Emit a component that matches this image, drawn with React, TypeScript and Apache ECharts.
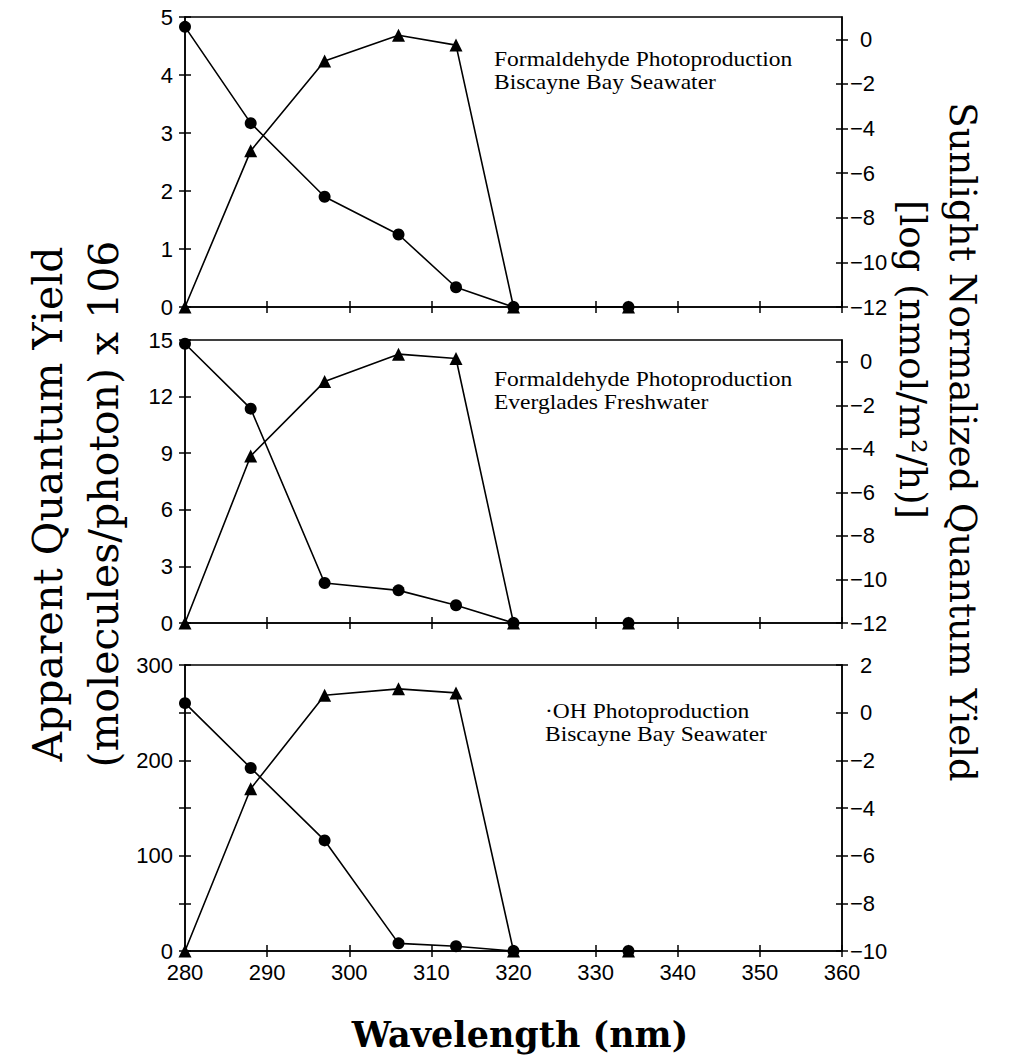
import React, { useEffect, useRef } from "react";
import * as echarts from "echarts";

const wavelengths = [280, 288, 297, 306, 313, 320, 334];

const p1Yield = [4.83, 3.17, 1.9, 1.25, 0.34, 0, 0];
const p1Log = [-12, -5.0, -0.97, 0.18, -0.26, -12, -12];
const p2Yield = [14.8, 11.36, 2.12, 1.73, 0.94, 0, 0];
const p2Log = [-12, -4.33, -0.91, 0.35, 0.15, -12, -12];
const p3Yield = [260, 192, 116, 8, 5, 0, 0];
const p3Log = [-10, -3.19, 0.73, 1.0, 0.83, -10, -10];

const xTicks = [280, 290, 300, 310, 320, 330, 340, 350, 360];
const p1LeftTicks = [0, 1, 2, 3, 4, 5];
const p2LeftTicks = [0, 3, 6, 9, 12, 15];
const p3LeftTicks = [0, 50, 100, 150, 200, 250, 300];
const p3LeftLabels = [0, 100, 200, 300];
const p12RightTicks = [-12, -10, -8, -6, -4, -2, 0];
const p3RightTicks = [-10, -8, -6, -4, -2, 0, 2];

const panelTitles = [
  "Formaldehyde Photoproduction\nBiscayne Bay Seawater",
  "Formaldehyde Photoproduction\nEverglades Freshwater",
  "\u00b7OH Photoproduction\nBiscayne Bay Seawater",
];

const leftTitle1 = "Apparent Quantum Yield";
const leftTitle2 = "(molecules/photon) x 106";
const rightTitle1 = "Sunlight Normalized Quantum Yield";
const rightTitle2 = "[log (nmol/m\u00b2/h)]";
const xTitle = "Wavelength (nm)";

export default function App() {
  const ref = useRef<HTMLDivElement>(null);
  useEffect(() => {
    if (!ref.current) return;
    const chart = echarts.init(ref.current, undefined, { renderer: "svg" });

    const SANS = "Liberation Sans, Arial, sans-serif";
    const SERIF = "DejaVu Serif, serif";
    const TSERIF = "Liberation Serif, Times New Roman, serif";
    const black = "#000";

    const panels = [
      { top: 17, height: 290, yl: [0, 5], yr: [-12, 1], lt: p1LeftTicks, ll: p1LeftTicks, rt: p12RightTicks, yv: p1Yield, lv: p1Log },
      { top: 340, height: 283, yl: [0, 15], yr: [-12, 1], lt: p2LeftTicks, ll: p2LeftTicks, rt: p12RightTicks, yv: p2Yield, lv: p2Log },
      { top: 665, height: 286, yl: [0, 300], yr: [-10, 2], lt: p3LeftTicks, ll: p3LeftLabels, rt: p3RightTicks, yv: p3Yield, lv: p3Log },
    ];

    const grid: any[] = [];
    const xAxis: any[] = [];
    const yAxis: any[] = [];
    const series: any[] = [];
    const graphic: any[] = [];

    const tickLen = 6;
    const labelStyle = { color: black, fontFamily: SANS, fontSize: 22 };
    const tickLine = { color: black, width: 1.5 };

    panels.forEach((p, i) => {
      grid.push({
        left: 185,
        top: p.top,
        width: 657,
        height: p.height,
        show: true,
        borderColor: black,
        borderWidth: 1.5,
        backgroundColor: "transparent",
      });
      const isLast = i === panels.length - 1;
      xAxis.push({
        type: "value",
        gridIndex: i,
        min: 280,
        max: 360,
        position: "bottom",
        axisLine: { show: true, lineStyle: tickLine },
        axisTick: { show: true, inside: false, length: tickLen, customValues: xTicks, lineStyle: tickLine },
        axisLabel: { show: isLast, customValues: xTicks, margin: 10, ...labelStyle },
        splitLine: { show: false },
      });
      xAxis.push({
        type: "value",
        gridIndex: i,
        min: 280,
        max: 360,
        position: "bottom",
        axisLine: { show: false },
        axisTick: { show: true, inside: true, length: tickLen, customValues: xTicks, lineStyle: tickLine },
        axisLabel: { show: false },
        splitLine: { show: false },
      });
      yAxis.push({
        type: "value",
        gridIndex: i,
        position: "left",
        min: p.yl[0],
        max: p.yl[1],
        axisLine: { show: true, lineStyle: tickLine },
        axisTick: { show: true, inside: false, length: tickLen, customValues: p.lt, lineStyle: tickLine },
        axisLabel: { show: true, customValues: p.ll, margin: 12, ...labelStyle },
        splitLine: { show: false },
      });
      yAxis.push({
        type: "value",
        gridIndex: i,
        position: "left",
        min: p.yl[0],
        max: p.yl[1],
        axisLine: { show: false },
        axisTick: { show: true, inside: true, length: tickLen, customValues: p.lt, lineStyle: tickLine },
        axisLabel: { show: false },
        splitLine: { show: false },
      });
      yAxis.push({
        type: "value",
        gridIndex: i,
        position: "right",
        min: p.yr[0],
        max: p.yr[1],
        axisLine: { show: true, lineStyle: tickLine },
        axisTick: { show: true, inside: false, length: tickLen, customValues: p.rt, lineStyle: tickLine },
        axisLabel: {
          show: true,
          customValues: p.rt,
          margin: 8,
          ...labelStyle,
          formatter: (v: number) => (v < 0 ? "\u2212" + Math.abs(v) : "{p|" + v + "}"),
          rich: { p: { padding: [0, 0, 0, 10], fontFamily: SANS, fontSize: 22, color: black } },
        },
        splitLine: { show: false },
      });
      yAxis.push({
        type: "value",
        gridIndex: i,
        position: "right",
        min: p.yr[0],
        max: p.yr[1],
        axisLine: { show: false },
        axisTick: { show: true, inside: true, length: tickLen, customValues: p.rt, lineStyle: tickLine },
        axisLabel: { show: false },
        splitLine: { show: false },
      });

      series.push({
        type: "line",
        xAxisIndex: i * 2,
        yAxisIndex: i * 4 + 2,
        data: wavelengths.map((w, k) => [w, p.lv[k]]),
        symbol: "triangle",
        symbolSize: 13,
        itemStyle: { color: black },
        lineStyle: { color: black, width: 1.6 },
        z: 3,
      });
      series.push({
        type: "line",
        xAxisIndex: i * 2,
        yAxisIndex: i * 4,
        data: wavelengths.map((w, k) => [w, p.yv[k]]),
        symbol: "circle",
        symbolSize: 12,
        itemStyle: { color: black },
        lineStyle: { color: black, width: 1.6 },
        z: 4,
      });
    });

    const annot = [
      { x: 494, y: 47 },
      { x: 494, y: 367 },
      { x: 545, y: 699 },
    ];
    annot.forEach((a, i) => {
      graphic.push({
        type: "text",
        x: a.x,
        y: a.y,
        scaleX: 1.12,
        style: {
          text: panelTitles[i],
          fontFamily: TSERIF,
          fontSize: 21,
          lineHeight: 23,
          fill: black,
          textAlign: "left",
          textVerticalAlign: "top",
        },
      });
    });

    graphic.push({
      type: "text",
      x: 48,
      y: 504,
      rotation: Math.PI / 2,
      style: { text: leftTitle1, fontFamily: SERIF, fontSize: 41, fill: black, textAlign: "center", textVerticalAlign: "middle" },
    });
    graphic.push({
      type: "text",
      x: 104,
      y: 504,
      rotation: Math.PI / 2,
      style: { text: leftTitle2, fontFamily: SERIF, fontSize: 41, fill: black, textAlign: "center", textVerticalAlign: "middle" },
    });
    graphic.push({
      type: "text",
      x: 962,
      y: 442,
      rotation: -Math.PI / 2,
      style: { text: rightTitle1, fontFamily: SERIF, fontSize: 37, fill: black, textAlign: "center", textVerticalAlign: "middle" },
    });
    graphic.push({
      type: "text",
      x: 912,
      y: 200,
      rotation: -Math.PI / 2,
      style: { text: rightTitle2, fontFamily: SERIF, fontSize: 37, fill: black, textAlign: "left", textVerticalAlign: "middle" },
    });
    graphic.push({
      type: "text",
      x: 520,
      y: 1034,
      style: { text: xTitle, fontFamily: SERIF, fontWeight: "bold", fontSize: 35, fill: black, textAlign: "center", textVerticalAlign: "middle" },
    });

    chart.setOption({
      animation: false,
      backgroundColor: "#fff",
      grid,
      xAxis,
      yAxis,
      series,
      graphic,
    });
    return () => chart.dispose();
  }, []);

  return <div ref={ref} style={{ position: "absolute", left: 0, top: 0, width: 1016, height: 1064 }} />;
}
